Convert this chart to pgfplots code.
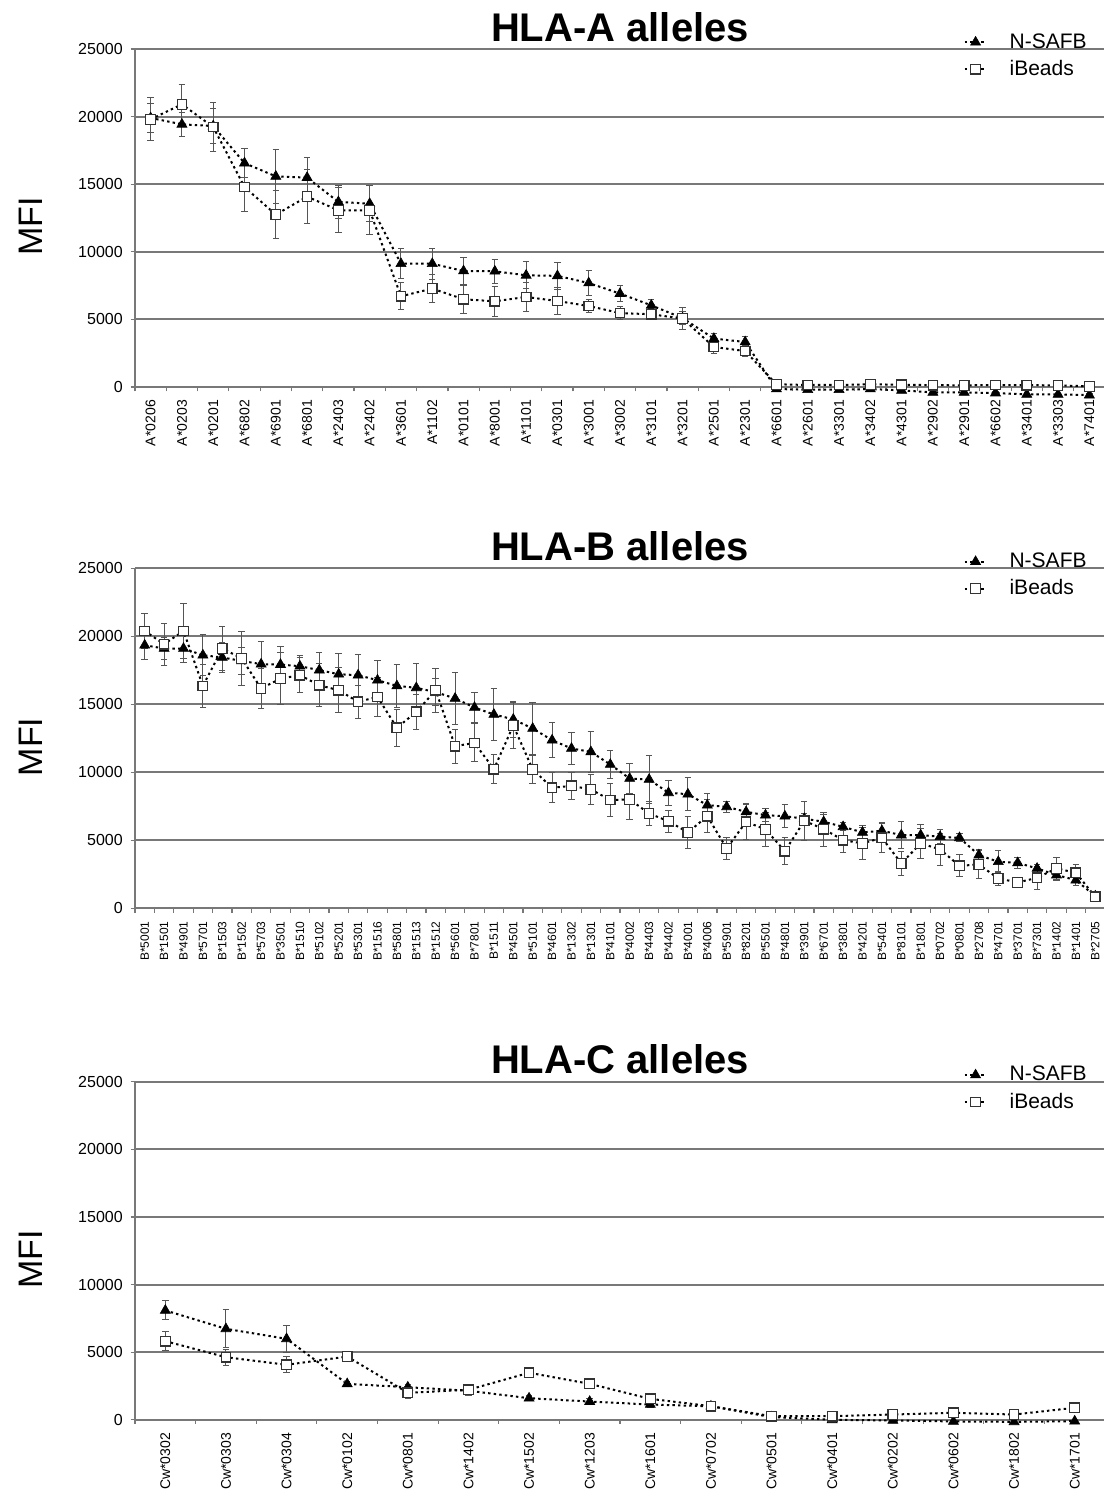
\documentclass[border=0pt]{standalone}
\usepackage{fontspec}
\setmainfont{Liberation Sans}
\usepackage{pgfplots}
\usepackage{pgfplotstable}
\pgfplotsset{compat=1.18}

\definecolor{gridgray}{RGB}{120,120,120}
\definecolor{errgray}{RGB}{85,85,85}

\pgfplotstableread{
x t te s se
0 19900 1100 19800 1600
1 19430 900 20910 1500
2 19300 1300 19230 1800
3 16560 1100 14790 1800
4 15580 2000 12750 1750
5 15490 1450 14080 2000
6 13690 1200 13070 1650
7 13560 1350 13070 1800
8 9120 1100 6710 1000
9 9120 1150 7280 1050
10 8580 1000 6490 1050
11 8560 900 6340 1100
12 8260 1000 6660 1050
13 8220 1000 6360 1000
14 7690 900 5990 500
15 6910 600 5470 500
16 6040 400 5380 400
17 5100 500 5060 800
18 3580 400 2960 500
19 3330 400 2660 400
20 -150 100 200 100
21 -200 100 150 100
22 -200 100 150 100
23 -150 100 200 100
24 -250 100 170 100
25 -400 100 140 100
26 -400 100 120 100
27 -450 100 150 100
28 -550 100 140 100
29 -550 100 120 100
30 -600 100 50 100
}\tabA

\pgfplotstableread{
x t te s se
0 19350 1050 20400 1300
1 19110 800 19430 1550
2 19110 1000 20400 2000
3 18620 1500 16360 1600
4 18450 1100 19110 1600
5 18200 1000 18380 2000
6 17960 1700 16170 1500
7 17930 1350 16900 1900
8 17810 800 17150 1300
9 17520 1300 16410 1600
10 17220 1500 16040 1650
11 17150 1550 15190 1200
12 16780 1450 15550 1450
13 16360 1600 13280 1350
14 16220 1800 14450 1300
15 15900 1000 16040 1600
16 15440 1900 11930 1250
17 14770 1100 12170 1400
18 14260 1900 10240 1050
19 13900 1300 13450 1700
20 13230 1900 10220 1000
21 12370 1300 8870 1100
22 11760 1200 9010 1000
23 11510 1500 8750 1100
24 10580 1000 7970 1200
25 9550 1100 8010 1450
26 9480 1800 6980 850
27 8500 900 6410 800
28 8400 1200 5590 1200
29 7590 850 6780 1200
30 7470 400 4410 800
31 7100 600 6370 1300
32 6860 500 5810 1250
33 6780 850 4210 1000
34 6600 400 6440 1450
35 6370 500 5830 1250
36 6000 300 5020 900
37 5590 500 4780 1200
38 5710 500 5190 1100
39 5390 1000 3310 900
40 5390 750 4780 1100
41 5270 500 4340 1200
42 5190 300 3130 800
43 3920 400 3230 1000
44 3430 800 2200 500
45 3350 400 1910 300
46 2940 300 2250 850
47 2450 400 2940 800
48 2080 400 2620 600
49 900 200 850 200
}\tabB

\pgfplotstableread{
x t te s se
0 8090 700 5820 700
1 6730 1400 4630 600
2 5990 1000 4070 600
3 2660 200 4680 300
4 2410 200 2000 400
5 2150 200 2220 400
6 1600 200 3480 200
7 1350 200 2660 350
8 1130 200 1550 300
9 1000 100 1010 200
10 200 100 270 100
11 0 50 270 100
12 -50 50 390 100
13 -120 50 520 100
14 -150 50 390 100
15 -100 50 890 100
}\tabC

\pgfplotsset{
  hla/.style={
    scale only axis, width=485pt, height=169pt,
    ymin=0, ymax=25000,
    ytick={0,5000,...,25000},
    minor ytick={0,5000,...,25000},
    major tick length=0pt, minor tick length=2.2pt,
    tick align=outside,
    tick style={gridgray, line width=0.6pt},
    axis lines*=left,
    axis line style={gridgray, line width=0.8pt},
    ymajorgrids,
    major grid style={gridgray, line width=1pt},
    scaled y ticks=false,
    /pgf/number format/assume math mode=true,
    /pgf/number format/1000 sep={},
    yticklabel style={font=\fontsize{8}{9}\selectfont},
    yticklabel shift=2.6pt,
    xticklabel style={rotate=90, anchor=east, font=\fontsize{7}{8}\selectfont},
    xticklabel shift=3pt,
    clip=false,
    legend style={draw=none, fill=none, font=\fontsize{10.5}{12}\selectfont,
      at={(1,1)}, anchor=north east, xshift=-4pt, yshift=12pt,
      cells={anchor=west}, row sep=0.5pt,
      /tikz/every odd column/.append style={column sep=9pt}},
    legend image code/.code={\draw[mark repeat=2,mark phase=2,##1] plot coordinates {(0pt,0pt) (5.5pt,0pt) (11pt,0pt)};},
    title style={font=\fontsize{20}{24}\selectfont\bfseries, at={(0.5,1)}, anchor=base, yshift=-2pt},
    ylabel={MFI},
    ylabel style={font=\fontsize{17}{20}\selectfont, at={(axis description cs:-0.107,0.475)}, anchor=center},
  },
  tri/.style={black, line width=1pt, dash pattern=on 1.2pt off 1.6pt,
    mark=triangle*, mark size=2.9pt, mark options={solid, fill=black, line width=0.3pt},
    error bars/.cd, y dir=both, y explicit,
    error bar style={errgray, line width=0.5pt, solid},
    error mark options={rotate=90, mark size=1.6pt, errgray, line width=0.5pt, solid}},
  sq/.style={black, line width=1pt, dash pattern=on 1.2pt off 1.6pt,
    mark=square*, mark size=2.4pt, mark options={solid, fill=white, draw=black!80, line width=0.6pt},
    error bars/.cd, y dir=both, y explicit,
    error bar style={errgray, line width=0.5pt, solid},
    error mark options={rotate=90, mark size=1.6pt, errgray, line width=0.5pt, solid}},
}

\begin{document}
\begin{tikzpicture}
\useasboundingbox (0,0) rectangle (552pt,-745pt);

\begin{axis}[hla, at={(67.5pt,-24.5pt)}, anchor=north west,
  title={HLA-A alleles},
  xmin=-0.5, xmax=30.5,
  xtick={0,...,30},
  minor xtick={-0.5,0.5,...,30.5},
  xticklabels={A*0206,A*0203,A*0201,A*6802,A*6901,A*6801,A*2403,A*2402,A*3601,A*1102,A*0101,A*8001,A*1101,A*0301,A*3001,A*3002,A*3101,A*3201,A*2501,A*2301,A*6601,A*2601,A*3301,A*3402,A*4301,A*2902,A*2901,A*6602,A*3401,A*3303,A*7401},
]
\addplot[tri] table[x=x, y=t, y error=te] {\tabA};
\addplot[sq] table[x=x, y=s, y error=se] {\tabA};
\legend{N-SAFB, iBeads}
\end{axis}

\begin{axis}[hla, at={(67.5pt,-284.2pt)}, anchor=north west, height=170pt,
  title={HLA-B alleles},
  xmin=-0.5, xmax=49.5,
  xtick={0,...,49},
  minor xtick={-0.5,0.5,...,49.5},
  xticklabels={B*5001,B*1501,B*4901,B*5701,B*1503,B*1502,B*5703,B*3501,B*1510,B*5102,B*5201,B*5301,B*1516,B*5801,B*1513,B*1512,B*5601,B*7801,B*1511,B*4501,B*5101,B*4601,B*1302,B*1301,B*4101,B*4002,B*4403,B*4402,B*4001,B*4006,B*5901,B*8201,B*5501,B*4801,B*3901,B*6701,B*3801,B*4201,B*5401,B*8101,B*1801,B*0702,B*0801,B*2708,B*4701,B*3701,B*7301,B*1402,B*1401,B*2705},
  xticklabel style={font=\fontsize{6}{7}\selectfont},
]
\addplot[tri] table[x=x, y=t, y error=te] {\tabB};
\addplot[sq] table[x=x, y=s, y error=se] {\tabB};
\legend{N-SAFB, iBeads}
\end{axis}

\begin{axis}[hla, at={(67.5pt,-540.9pt)}, anchor=north west,
  title={HLA-C alleles},
  xmin=-0.5, xmax=15.5,
  xtick={0,...,15},
  minor xtick={-0.5,0.5,...,15.5},
  xticklabels={Cw*0302,Cw*0303,Cw*0304,Cw*0102,Cw*0801,Cw*1402,Cw*1502,Cw*1203,Cw*1601,Cw*0702,Cw*0501,Cw*0401,Cw*0202,Cw*0602,Cw*1802,Cw*1701},
]
\addplot[tri] table[x=x, y=t, y error=te] {\tabC};
\addplot[sq] table[x=x, y=s, y error=se] {\tabC};
\legend{N-SAFB, iBeads}
\end{axis}
\end{tikzpicture}
\end{document}
